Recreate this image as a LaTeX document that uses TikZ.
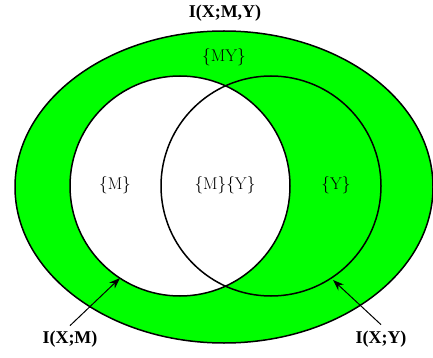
\documentclass[tikz,border=0pt]{standalone}
\usepackage{fontspec}
\newfontfamily\timesbf{Liberation Serif}
\usetikzlibrary{arrows.meta}
\definecolor{vgreen}{RGB}{0,255,0}
\begin{document}
\begin{tikzpicture}[x=1pt,y=-1pt,
  outline/.style={draw=black,line width=1.5pt},
  setlabel/.style={font=\fontsize{17}{20}\selectfont, inner sep=0pt},
  infolabel/.style={font=\fontsize{18}{21}\selectfont\timesbf\bfseries, inner sep=0pt},
  pointer/.style={draw=black,line width=1pt,-{Stealth[length=11pt,width=8pt]}}]
\useasboundingbox (0,0) rectangle (433,358);
% outer ellipse
\path[fill=vgreen] (224,187) ellipse [x radius=209, y radius=156];
\path[fill=white] (180,186) circle [radius=110];
\draw[outline] (224,187) ellipse [x radius=209, y radius=156];
\draw[outline] (180,186) circle [radius=110];
\draw[outline] (271,186) circle [radius=110];
% labels
\node[infolabel] (ixmy) at (225,13) {I(X;M,Y)};
\node[setlabel] (my) at (224,57) {$\{$MY$\}$};
\node[setlabel] (m) at (115,185) {$\{$M$\}$};
\node[setlabel] (mandy) at (225,185) {$\{$M$\}\{$Y$\}$};
\node[setlabel] (y) at (336,185) {$\{$Y$\}$};
\node[infolabel] (ixm) at (70,339) {I(X;M)};
\node[infolabel] (ixy) at (381,339) {I(X;Y)};
\coordinate (tipm) at (120,278);
\coordinate (tipy) at (333,280);
\draw[pointer] (ixm.north) ++(0,-5) -- (tipm);
\draw[pointer] (ixy.north) ++(0,-6) -- (tipy);
\end{tikzpicture}
\end{document}
